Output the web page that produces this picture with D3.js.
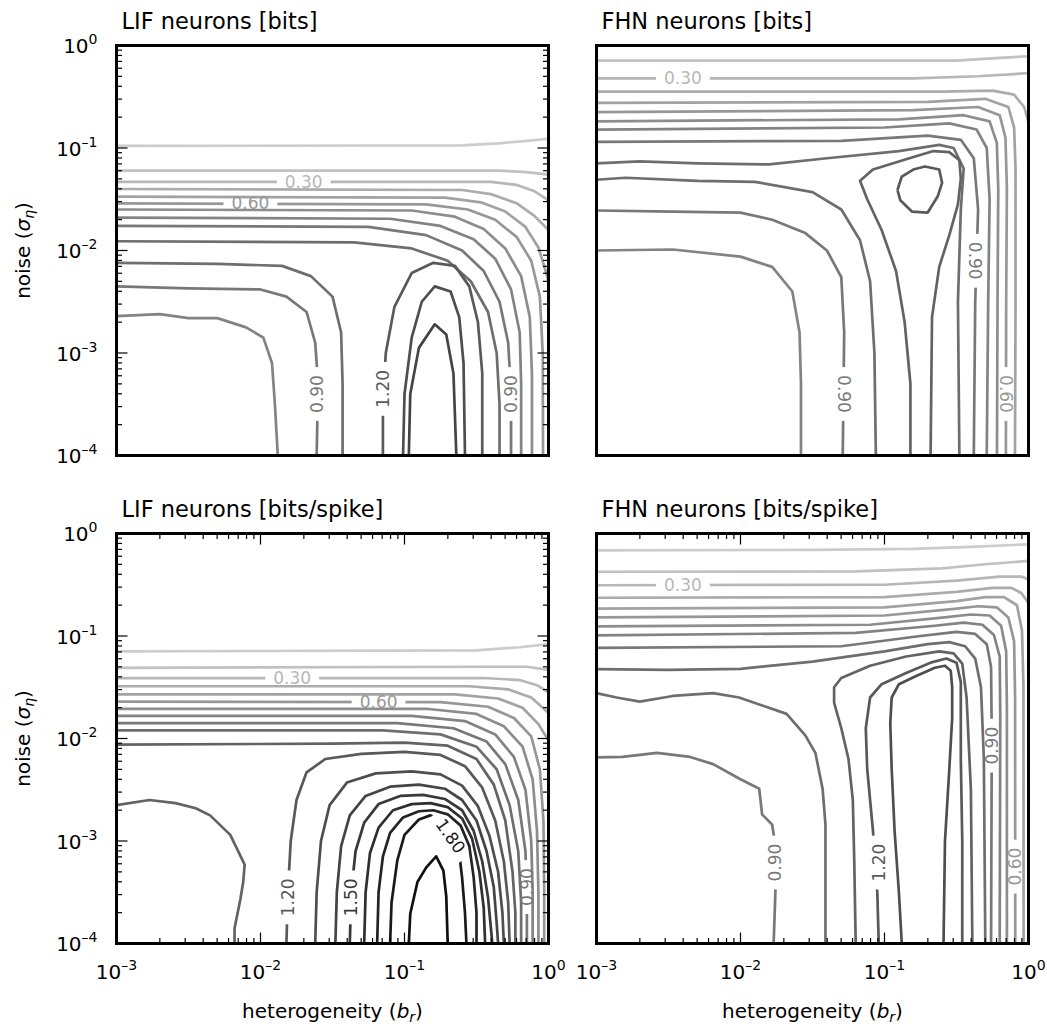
<!DOCTYPE html>
<html><head><meta charset="utf-8">
<script src="https://cdn.jsdelivr.net/npm/d3@7"></script>
<style>body{margin:0;background:#fff}text{font-family:"DejaVu Sans",sans-serif}</style>
</head><body><svg id="chart" width="1047" height="1026"></svg>
<script>
// axis tick exponents
const xTickExps = [-3, -2, -1, 0];
const yTickExps = [-4, -3, -2, -1, 0];
const panelTitles = ["LIF neurons [bits]", "FHN neurons [bits]", "LIF neurons [bits/spike]", "FHN neurons [bits/spike]"];

// contour lines: level, points as [log10(b_r), log10(sigma_eta)], optional label [x, y, rotation]
const lifBitsContours = [
 {level:0.1, pts:[[-3,-0.98],[-0.6,-0.975],[-0.35,-0.955],[-0.15,-0.93],[0,-0.91]]},
 {level:0.2, pts:[[-3,-1.22],[-0.35,-1.22],[-0.15,-1.235],[0,-1.26]]},
 {level:0.3, pts:[[-3,-1.33],[-0.4,-1.33],[-0.22,-1.36],[-0.1,-1.42],[0,-1.51]], label:[-1.7,-1.33,0]},
 {level:0.4, pts:[[-3,-1.40],[-0.6,-1.41],[-0.4,-1.45],[-0.22,-1.54],[-0.1,-1.66],[0,-1.80]]},
 {level:0.5, pts:[[-3,-1.475],[-0.72,-1.485],[-0.47,-1.53],[-0.3,-1.62],[-0.16,-1.77],[-0.07,-1.97],[-0.02,-2.2],[0,-2.3]]},
 {level:0.6, pts:[[-3,-1.54],[-0.85,-1.55],[-0.56,-1.6],[-0.37,-1.7],[-0.22,-1.87],[-0.12,-2.1],[-0.06,-2.45],[-0.04,-3.0],[-0.038,-4]], label:[-2.07,-1.54,0]},
 {level:0.7, pts:[[-3,-1.60],[-0.95,-1.61],[-0.65,-1.67],[-0.45,-1.79],[-0.3,-1.98],[-0.19,-2.25],[-0.13,-2.65],[-0.115,-3.2],[-0.115,-4]]},
 {level:0.8, pts:[[-3,-1.68],[-1.1,-1.69],[-0.75,-1.76],[-0.52,-1.89],[-0.37,-2.08],[-0.26,-2.38],[-0.2,-2.8],[-0.19,-3.3],[-0.19,-4]]},
 {level:0.9, pts:[[-3,-1.76],[-1.25,-1.77],[-0.85,-1.85],[-0.6,-2.0],[-0.45,-2.2],[-0.34,-2.5],[-0.28,-2.9],[-0.26,-3.4],[-0.26,-4]], label:[-0.26,-3.4,-90]},
 {level:1.0, pts:[[-3,-1.91],[-1.35,-1.92],[-0.95,-1.98],[-0.7,-2.1],[-0.54,-2.3],[-0.42,-2.6],[-0.36,-3.0],[-0.34,-3.5],[-0.34,-4]]},
 {level:1.0, pts:[[-3,-2.12],[-2.3,-2.13],[-1.85,-2.15],[-1.65,-2.25],[-1.5,-2.45],[-1.44,-2.8],[-1.43,-3.3],[-1.43,-4]]},
 {level:0.9, pts:[[-3,-2.35],[-2.5,-2.37],[-2.0,-2.38],[-1.82,-2.45],[-1.68,-2.6],[-1.62,-2.9],[-1.6,-3.3],[-1.61,-4]], label:[-1.61,-3.4,-90]},
 {level:0.8, pts:[[-3,-2.64],[-2.7,-2.62],[-2.5,-2.66],[-2.3,-2.66],[-2.1,-2.75],[-1.98,-2.85],[-1.92,-3.1],[-1.9,-3.5],[-1.88,-4]]},
 {level:1.2, pts:[[-1.15,-4],[-1.15,-3.5],[-1.13,-3.0],[-1.07,-2.55],[-0.95,-2.22],[-0.8,-2.12],[-0.65,-2.15],[-0.55,-2.35],[-0.49,-2.7],[-0.46,-3.2],[-0.46,-4]], label:[-1.15,-3.35,-90]},
 {level:1.3, pts:[[-1.01,-4],[-1.0,-3.4],[-0.95,-2.85],[-0.88,-2.5],[-0.79,-2.35],[-0.68,-2.4],[-0.62,-2.65],[-0.59,-3.1],[-0.58,-4]]},
 {level:1.4, pts:[[-0.97,-4],[-0.96,-3.4],[-0.9,-2.95],[-0.79,-2.72],[-0.71,-2.82],[-0.66,-3.2],[-0.64,-4]]}
];
const fhnBitsContours = [
 {level:0.2, pts:[[-3,-0.147],[-0.5,-0.147],[-0.2,-0.12],[0,-0.105]]},
 {level:0.3, pts:[[-3,-0.32],[-0.8,-0.32],[-0.35,-0.30],[0,-0.27]], label:[-2.4,-0.32,0]},
 {level:0.4, pts:[[-3,-0.45],[-0.6,-0.45],[-0.25,-0.44],[-0.1,-0.48],[-0.03,-0.6],[0,-0.75]]},
 {level:0.5, pts:[[-3,-0.56],[-0.7,-0.55],[-0.3,-0.52],[-0.14,-0.6],[-0.1,-0.8],[-0.09,-1.2],[-0.09,-2.5],[-0.094,-4]]},
 {level:0.6, pts:[[-3,-0.65],[-0.8,-0.63],[-0.35,-0.6],[-0.2,-0.68],[-0.16,-0.9],[-0.15,-1.4],[-0.155,-2.5],[-0.157,-4]], label:[-0.157,-3.4,90]},
 {level:0.7, pts:[[-3,-0.74],[-0.9,-0.72],[-0.45,-0.68],[-0.27,-0.74],[-0.22,-0.95],[-0.21,-1.4],[-0.215,-2.5],[-0.219,-4]]},
 {level:0.8, pts:[[-3,-0.82],[-1.0,-0.80],[-0.55,-0.76],[-0.36,-0.82],[-0.29,-1.0],[-0.27,-1.5],[-0.28,-2.5],[-0.29,-4]]},
 {level:0.9, pts:[[-3,-0.94],[-1.3,-0.93],[-0.7,-0.88],[-0.47,-0.92],[-0.38,-1.1],[-0.35,-1.6],[-0.37,-2.5],[-0.38,-4]], label:[-0.37,-2.1,90]},
 {level:1.0, pts:[[-3,-1.15],[-2.7,-1.13],[-2.3,-1.15],[-1.8,-1.16],[-1.4,-1.1],[-0.9,-1.03],[-0.62,-0.97],[-0.52,-1.0],[-0.45,-1.2],[-0.47,-1.6],[-0.49,-2.5],[-0.48,-4]]},
 {level:1.0, pts:[[-3,-1.31],[-2.8,-1.29],[-2.3,-1.32],[-1.9,-1.33],[-1.5,-1.43],[-1.3,-1.6],[-1.17,-1.9],[-1.1,-2.3],[-1.07,-3],[-1.06,-4]]},
 {level:0.9, pts:[[-3,-1.61],[-2.47,-1.62],[-2.0,-1.63],[-1.78,-1.7],[-1.55,-1.83],[-1.4,-2.0],[-1.3,-2.26],[-1.28,-2.8],[-1.29,-4]], label:[-1.28,-3.4,90]},
 {level:0.8, pts:[[-3,-2.0],[-2.47,-1.99],[-2.0,-2.06],[-1.78,-2.16],[-1.64,-2.4],[-1.59,-2.8],[-1.58,-3.3],[-1.58,-4]]},
 {level:1.1, pts:[[-0.82,-4],[-0.82,-3.3],[-0.86,-2.7],[-0.92,-2.2],[-1.02,-1.8],[-1.12,-1.5],[-1.17,-1.32],[-1.08,-1.21],[-0.85,-1.11],[-0.66,-1.03],[-0.55,-1.04],[-0.48,-1.12],[-0.47,-1.3],[-0.49,-1.55],[-0.55,-1.85],[-0.62,-2.16],[-0.67,-2.65],[-0.68,-4]]},
 {level:1.2, pts:[[-0.91,-1.41],[-0.88,-1.28],[-0.80,-1.21],[-0.72,-1.18],[-0.62,-1.21],[-0.60,-1.34],[-0.63,-1.47],[-0.70,-1.63],[-0.81,-1.62],[-0.89,-1.51],[-0.91,-1.41]]}
];
const lifSpikeContours = [
 {level:0.1, pts:[[-3,-1.15],[-0.5,-1.14],[-0.2,-1.11],[0,-1.08]]},
 {level:0.2, pts:[[-3,-1.31],[-0.4,-1.30],[-0.15,-1.30],[0,-1.33]]},
 {level:0.3, pts:[[-3,-1.41],[-0.45,-1.41],[-0.2,-1.43],[-0.08,-1.48],[0,-1.55]], label:[-1.78,-1.41,0]},
 {level:0.4, pts:[[-3,-1.49],[-0.55,-1.49],[-0.28,-1.52],[-0.12,-1.6],[0,-1.75]]},
 {level:0.5, pts:[[-3,-1.57],[-0.65,-1.57],[-0.35,-1.61],[-0.18,-1.7],[-0.07,-1.86],[0,-2.02]]},
 {level:0.6, pts:[[-3,-1.64],[-0.75,-1.645],[-0.42,-1.69],[-0.24,-1.8],[-0.12,-1.98],[-0.06,-2.3],[-0.035,-2.8],[-0.03,-3.5],[-0.03,-4]], label:[-1.18,-1.645,0]},
 {level:0.7, pts:[[-3,-1.71],[-0.85,-1.71],[-0.5,-1.76],[-0.31,-1.88],[-0.18,-2.08],[-0.11,-2.4],[-0.08,-2.9],[-0.07,-3.5],[-0.07,-4]]},
 {level:0.8, pts:[[-3,-1.78],[-0.95,-1.78],[-0.58,-1.83],[-0.37,-1.96],[-0.24,-2.18],[-0.16,-2.5],[-0.12,-3.0],[-0.11,-3.5],[-0.11,-4]]},
 {level:0.9, pts:[[-3,-1.85],[-1.05,-1.85],[-0.66,-1.9],[-0.43,-2.03],[-0.3,-2.25],[-0.21,-2.6],[-0.16,-3.1],[-0.15,-3.6],[-0.15,-4]], label:[-0.15,-3.45,-90]},
 {level:1.0, pts:[[-3,-1.92],[-1.15,-1.92],[-0.75,-1.96],[-0.5,-2.08],[-0.36,-2.3],[-0.27,-2.65],[-0.21,-3.1],[-0.19,-3.6],[-0.19,-4]]},
 {level:1.1, pts:[[-3,-2.06],[-1.5,-2.05],[-1.0,-2.04],[-0.7,-2.07],[-0.5,-2.2],[-0.38,-2.45],[-0.3,-2.8],[-0.25,-3.3],[-0.23,-3.7],[-0.23,-4]]},
 {level:1.1, pts:[[-3,-2.65],[-2.77,-2.60],[-2.59,-2.63],[-2.45,-2.68],[-2.35,-2.75],[-2.21,-2.94],[-2.11,-3.23],[-2.12,-3.4],[-2.14,-3.57],[-2.18,-3.85],[-2.18,-4]]},
 {level:1.2, pts:[[-1.82,-4],[-1.81,-3.5],[-1.79,-3.0],[-1.75,-2.6],[-1.68,-2.33],[-1.55,-2.2],[-1.3,-2.15],[-1.0,-2.13],[-0.75,-2.16],[-0.58,-2.27],[-0.46,-2.48],[-0.37,-2.8],[-0.31,-3.2],[-0.28,-3.6],[-0.27,-4]], label:[-1.81,-3.55,-90]},
 {level:1.3, pts:[[-1.62,-4],[-1.61,-3.5],[-1.58,-3.0],[-1.52,-2.65],[-1.4,-2.43],[-1.2,-2.34],[-0.95,-2.32],[-0.75,-2.35],[-0.6,-2.46],[-0.49,-2.66],[-0.41,-2.95],[-0.35,-3.3],[-0.32,-3.7],[-0.31,-4]]},
 {level:1.4, pts:[[-1.48,-4],[-1.47,-3.5],[-1.44,-3.05],[-1.38,-2.75],[-1.27,-2.56],[-1.1,-2.47],[-0.9,-2.45],[-0.72,-2.49],[-0.6,-2.6],[-0.5,-2.8],[-0.43,-3.1],[-0.38,-3.45],[-0.36,-3.8],[-0.35,-4]]},
 {level:1.5, pts:[[-1.38,-4],[-1.37,-3.5],[-1.34,-3.1],[-1.28,-2.82],[-1.18,-2.64],[-1.03,-2.56],[-0.87,-2.55],[-0.72,-2.59],[-0.6,-2.7],[-0.52,-2.9],[-0.46,-3.2],[-0.42,-3.55],[-0.4,-3.85],[-0.39,-4]], label:[-1.37,-3.55,-90]},
 {level:1.6, pts:[[-1.28,-4],[-1.27,-3.5],[-1.24,-3.12],[-1.18,-2.87],[-1.08,-2.7],[-0.95,-2.64],[-0.82,-2.63],[-0.7,-2.67],[-0.6,-2.78],[-0.53,-2.98],[-0.48,-3.3],[-0.45,-3.65],[-0.44,-4]]},
 {level:1.7, pts:[[-1.19,-4],[-1.18,-3.5],[-1.15,-3.15],[-1.1,-2.92],[-1.01,-2.77],[-0.9,-2.71],[-0.8,-2.70],[-0.7,-2.74],[-0.61,-2.85],[-0.55,-3.05],[-0.52,-3.35],[-0.5,-3.7],[-0.5,-4]]},
 {level:1.8, pts:[[-1.10,-4],[-1.09,-3.6],[-1.05,-3.19],[-1.0,-2.94],[-0.9,-2.79],[-0.82,-2.75],[-0.74,-2.8],[-0.68,-2.94],[-0.62,-3.12],[-0.6,-3.36],[-0.58,-3.7],[-0.57,-4]], label:[-0.68,-2.95,55]},
 {level:1.9, pts:[[-0.97,-4],[-0.96,-3.71],[-0.91,-3.4],[-0.85,-3.26],[-0.78,-3.15],[-0.73,-3.29],[-0.71,-3.54],[-0.70,-4]]}
];
const fhnSpikeContours = [
 {level:0.1, pts:[[-3,-0.164],[-1.5,-0.16],[-0.8,-0.15],[-0.4,-0.13],[0,-0.105]]},
 {level:0.2, pts:[[-3,-0.373],[-1.2,-0.37],[-0.6,-0.34],[-0.3,-0.3],[0,-0.268]]},
 {level:0.3, pts:[[-3,-0.505],[-1.0,-0.5],[-0.5,-0.46],[-0.2,-0.42],[-0.05,-0.42],[0,-0.45]], label:[-2.4,-0.505,0]},
 {level:0.4, pts:[[-3,-0.627],[-1.0,-0.62],[-0.5,-0.57],[-0.25,-0.53],[-0.12,-0.53],[-0.05,-0.58],[0,-0.68]]},
 {level:0.5, pts:[[-3,-0.732],[-1.0,-0.72],[-0.5,-0.66],[-0.3,-0.62],[-0.17,-0.62],[-0.08,-0.7],[-0.045,-0.95],[-0.035,-1.5],[-0.034,-4]]},
 {level:0.6, pts:[[-3,-0.819],[-1.0,-0.8],[-0.55,-0.74],[-0.35,-0.71],[-0.22,-0.72],[-0.14,-0.82],[-0.1,-1.05],[-0.093,-1.6],[-0.092,-4]], label:[-0.092,-3.25,-90]},
 {level:0.7, pts:[[-3,-0.906],[-1.1,-0.89],[-0.6,-0.82],[-0.4,-0.79],[-0.27,-0.8],[-0.19,-0.9],[-0.155,-1.15],[-0.15,-1.7],[-0.15,-4]]},
 {level:0.8, pts:[[-3,-0.993],[-1.2,-0.97],[-0.65,-0.9],[-0.45,-0.87],[-0.32,-0.89],[-0.24,-0.99],[-0.2,-1.2],[-0.196,-1.8],[-0.2,-4]]},
 {level:0.9, pts:[[-3,-1.115],[-1.3,-1.1],[-0.75,-1.0],[-0.5,-0.96],[-0.37,-0.98],[-0.29,-1.08],[-0.26,-1.3],[-0.255,-2.0],[-0.26,-4]], label:[-0.255,-2.07,-90]},
 {level:1.0, pts:[[-3,-1.324],[-2.5,-1.33],[-2.0,-1.32],[-1.5,-1.25],[-1.0,-1.15],[-0.7,-1.08],[-0.55,-1.06],[-0.44,-1.1],[-0.37,-1.22],[-0.33,-1.5],[-0.31,-2.2],[-0.3,-4]]},
 {level:1.1, pts:[[-1.2,-4],[-1.21,-3.2],[-1.22,-2.6],[-1.25,-2.2],[-1.3,-1.9],[-1.35,-1.65],[-1.35,-1.5],[-1.3,-1.41],[-1.1,-1.29],[-0.85,-1.2],[-0.62,-1.15],[-0.52,-1.17],[-0.46,-1.27],[-0.43,-1.6],[-0.4,-2.5],[-0.39,-4]]},
 {level:1.2, pts:[[-1.04,-4],[-1.05,-3.5],[-1.08,-2.9],[-1.12,-2.3],[-1.13,-1.9],[-1.1,-1.6],[-1.02,-1.47],[-0.85,-1.36],[-0.68,-1.26],[-0.57,-1.22],[-0.5,-1.26],[-0.47,-1.45],[-0.47,-2.2],[-0.46,-3],[-0.46,-4]], label:[-1.04,-3.21,-90]},
 {level:1.3, pts:[[-0.88,-4],[-0.9,-3.5],[-0.93,-2.9],[-0.95,-2.3],[-0.96,-1.85],[-0.95,-1.6],[-0.9,-1.47],[-0.78,-1.39],[-0.65,-1.31],[-0.58,-1.29],[-0.54,-1.34],[-0.53,-1.5],[-0.53,-1.8],[-0.55,-2.3],[-0.58,-3],[-0.59,-4]]},
 {level:1.0, pts:[[-3,-1.557],[-2.86,-1.6],[-2.7,-1.64],[-2.47,-1.585],[-2.19,-1.557],[-2.01,-1.6],[-1.68,-1.76],[-1.55,-1.97],[-1.48,-2.14],[-1.43,-2.49],[-1.41,-2.84],[-1.41,-4]]},
 {level:0.9, pts:[[-3,-2.185],[-2.82,-2.18],[-2.58,-2.14],[-2.35,-2.18],[-2.19,-2.25],[-2.01,-2.39],[-1.87,-2.49],[-1.85,-2.74],[-1.78,-2.84],[-1.75,-3.12],[-1.76,-3.6],[-1.77,-4]], label:[-1.76,-3.21,-90]}
];
const panelContours = [lifBitsContours, fhnBitsContours, lifSpikeContours, fhnSpikeContours];

// layout
const W = 432, H = 410;
const panels = [
  {x0:116.5, y0:45.5, yTicks:["left","right"], yLabels:true, xTicks:[], xLabels:false},
  {x0:596.5, y0:45.5, yTicks:[], yLabels:false, xTicks:[], xLabels:false},
  {x0:116.5, y0:533.5, yTicks:["left","right"], yLabels:true, xTicks:["top","bottom"], xLabels:true},
  {x0:596.5, y0:533.5, yTicks:[], yLabels:false, xTicks:["top","bottom"], xLabels:true}
];
const svg = d3.select("#chart");
const grayOf = lv => { const g = Math.max(0, Math.min(1, 0.84 - 0.41*lv)); const c = Math.round(g*255); return `rgb(${c},${c},${c})`; };

panels.forEach((p, i) => {
  const x = d3.scaleLog().domain([1e-3, 1]).range([p.x0, p.x0 + W]);
  const y = d3.scaleLog().domain([1e-4, 1]).range([p.y0 + H, p.y0]);
  const g = svg.append("g");
  const clipId = "clip" + i;
  g.append("clipPath").attr("id", clipId).append("rect").attr("x", p.x0).attr("y", p.y0).attr("width", W).attr("height", H);
  const line = d3.line().x(d => x(Math.pow(10, d[0]))).y(d => y(Math.pow(10, d[1])));
  const lines = g.append("g").attr("clip-path", `url(#${clipId})`);
  panelContours[i].forEach((c, j) => {
    const col = grayOf(c.level);
    const path = lines.append("path").attr("d", line(c.pts)).attr("fill", "none")
      .attr("stroke", col).attr("stroke-width", 2.7).attr("stroke-linejoin", "round");
    if (c.label) {
      const lx = x(Math.pow(10, c.label[0])), ly = y(Math.pow(10, c.label[1])), rot = c.label[2];
      const txt = c.level.toFixed(2);
      const tw = txt.length * 0.556 * 17 + 16;
      const mid = `m${i}_${j}`;
      const m = g.append("mask").attr("id", mid).attr("maskUnits", "userSpaceOnUse")
        .attr("x", 0).attr("y", 0).attr("width", 1047).attr("height", 1026);
      m.append("rect").attr("x", 0).attr("y", 0).attr("width", 1047).attr("height", 1026).attr("fill", "#fff");
      m.append("rect").attr("x", -tw/2).attr("y", -9).attr("width", tw).attr("height", 18).attr("fill", "#000")
        .attr("transform", `translate(${lx},${ly}) rotate(${rot})`);
      path.attr("mask", `url(#${mid})`);
      g.append("text").attr("transform", `translate(${lx},${ly}) rotate(${rot})`)
        .attr("text-anchor", "middle").attr("dy", "0.36em").attr("font-size", 17).attr("fill", col).text(txt);
    }
  });
  // ticks
  const ax = g.append("g").attr("stroke", "#000").attr("stroke-width", 1.2);
  const yMajor = yTickExps.map(e => Math.pow(10, e));
  const yMinor = []; for (let e = -4; e < 0; e++) for (let k = 2; k <= 9; k++) yMinor.push(k * Math.pow(10, e));
  const xMajor = xTickExps.map(e => Math.pow(10, e));
  const xMinor = []; for (let e = -3; e < 0; e++) for (let k = 2; k <= 9; k++) xMinor.push(k * Math.pow(10, e));
  p.yTicks.forEach(side => {
    const xs = side === "left" ? p.x0 : p.x0 + W, dir = side === "left" ? 1 : -1;
    yMajor.forEach(v => ax.append("line").attr("x1", xs).attr("x2", xs + dir*11).attr("y1", y(v)).attr("y2", y(v)));
    yMinor.forEach(v => ax.append("line").attr("x1", xs).attr("x2", xs + dir*5.5).attr("y1", y(v)).attr("y2", y(v)));
  });
  p.xTicks.forEach(side => {
    const ys = side === "top" ? p.y0 : p.y0 + H, dir = side === "top" ? 1 : -1;
    xMajor.forEach(v => ax.append("line").attr("y1", ys).attr("y2", ys + dir*11).attr("x1", x(v)).attr("x2", x(v)));
    xMinor.forEach(v => ax.append("line").attr("y1", ys).attr("y2", ys + dir*5.5).attr("x1", x(v)).attr("x2", x(v)));
  });
  // frame
  g.append("rect").attr("x", p.x0).attr("y", p.y0).attr("width", W).attr("height", H)
    .attr("fill", "none").attr("stroke", "#000").attr("stroke-width", 3);
  // tick labels
  if (p.yLabels) {
    yTickExps.forEach(e => {
      const t = g.append("text").attr("x", p.x0 - 19).attr("y", y(Math.pow(10, e)) + 7.5)
        .attr("text-anchor", "end").attr("font-size", 20).attr("fill", "#000");
      t.append("tspan").text("10");
      t.append("tspan").attr("dy", -9).attr("font-size", 14).text(e === 0 ? "0" : "\u2013" + (-e));
    });
  }
  if (p.xLabels) {
    xTickExps.forEach(e => {
      const t = g.append("text").attr("x", x(Math.pow(10, e))).attr("y", p.y0 + H + 35)
        .attr("text-anchor", "middle").attr("font-size", 20).attr("fill", "#000");
      t.append("tspan").text("10");
      t.append("tspan").attr("dy", -9).attr("font-size", 14).text(e === 0 ? "0" : "\u2013" + (-e));
    });
    const xl = g.append("text").attr("x", p.x0 + W/2).attr("y", p.y0 + H + 74)
      .attr("text-anchor", "middle").attr("font-size", 20).attr("fill", "#000");
    xl.append("tspan").text("heterogeneity (");
    xl.append("tspan").attr("font-style", "italic").text("b");
    xl.append("tspan").attr("font-style", "italic").attr("font-size", 14).attr("dy", 4).text("r");
    xl.append("tspan").attr("dy", -4).text(")");
  }
  if (p.yLabels) {
    const yl = g.append("text").attr("transform", `translate(${30},${p.y0 + H/2}) rotate(-90)`)
      .attr("text-anchor", "middle").attr("font-size", 20).attr("fill", "#000");
    yl.append("tspan").text("noise (");
    yl.append("tspan").attr("font-style", "italic").text("\u03c3");
    yl.append("tspan").attr("font-style", "italic").attr("font-size", 14).attr("dy", 4).text("\u03b7");
    yl.append("tspan").attr("dy", -4).text(")");
  }
  g.append("text").attr("x", p.x0 + 5).attr("y", p.y0 - 17).attr("font-size", 22.5).attr("fill", "#000").text(panelTitles[i]);
});
</script></body></html>
